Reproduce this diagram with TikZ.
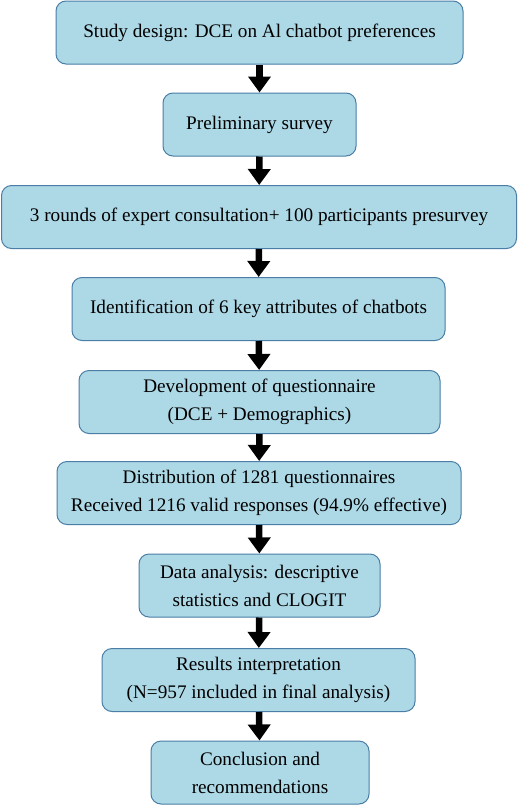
\documentclass[tikz,border=0pt]{standalone}
\usepackage{fontspec}
\setmainfont{Liberation Serif}
\usetikzlibrary{arrows.meta, positioning}
\definecolor{boxfill}{HTML}{ADD8E6}
\definecolor{boxline}{HTML}{4A7EA6}

\begin{document}
\begin{tikzpicture}[
    x=1pt, y=-1pt,
    stage/.style={draw=boxline, line width=1pt, rounded corners=10pt, fill=boxfill, minimum height=63pt, align=center, font=\fontsize{19.2}{28}\selectfont},
    flow/.style={-{Triangle[width=22pt, length=16pt]}, line width=6.5pt, black},
]
\useasboundingbox (0,0) rectangle (519,809);

% Stages
\node[stage, minimum width=407pt] (design) at (259.5, 32.5) {Study design: DCE on Al chatbot preferences};
\node[stage, minimum width=193pt] (prelim) at (259.5, 124.5) {Preliminary survey};
\node[stage, minimum width=515pt] (consult) at (259, 217) {3 rounds of expert consultation+ 100 participants presurvey};
\node[stage, minimum width=373pt] (attrib) at (258.5, 309) {Identification of 6 key attributes of chatbots};
\node[stage, minimum width=361pt] (quest) at (259.5, 402) {Development of questionnaire\\(DCE + Demographics)};
\node[stage, minimum width=404pt] (distrib) at (259, 493) {Distribution of 1281 questionnaires\\Received 1216 valid responses (94.9\% effective)};
\node[stage, minimum width=241pt] (analysis) at (259.5, 585.5) {Data analysis: descriptive\\statistics and CLOGIT};
\node[stage, minimum width=313pt] (results) at (258.5, 680) {Results interpretation\\(N=957 included in final analysis)};
\node[stage, minimum width=218pt] (concl) at (260, 772.5) {Conclusion and\\recommendations};

% Arrows
\draw[flow] (design) -- (prelim);
\draw[flow] (prelim) -- (consult);
\draw[flow] (consult) -- (attrib);
\draw[flow] (attrib) -- (quest);
\draw[flow] (quest) -- (distrib);
\draw[flow] (distrib) -- (analysis);
\draw[flow] (analysis) -- (results);
\draw[flow] (results) -- (concl);

\end{tikzpicture}
\end{document}
